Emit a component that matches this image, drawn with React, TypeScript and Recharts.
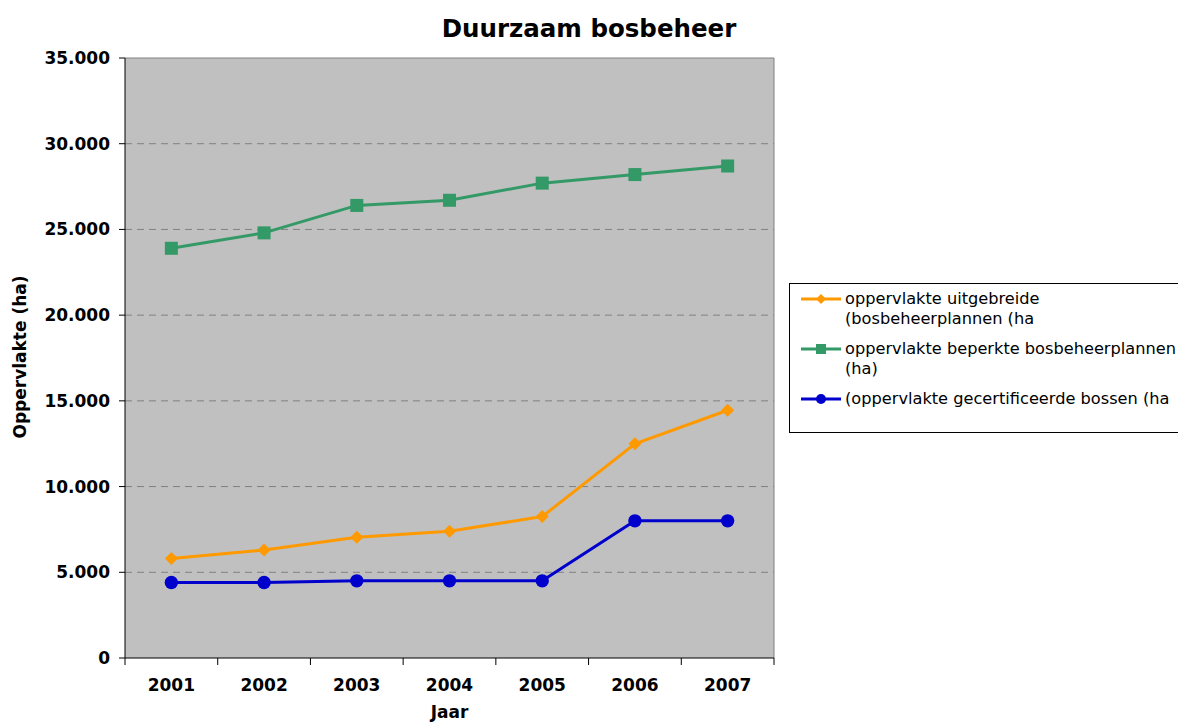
import { CartesianGrid, Line, LineChart, ReferenceLine, XAxis, YAxis } from "recharts";

const years = ["2001", "2002", "2003", "2004", "2005", "2006", "2007"];
const uitgebreid = [5800, 6300, 7050, 7400, 8250, 12500, 14450];
const beperkt = [23900, 24800, 26400, 26700, 27700, 28200, 28700];
const gecertificeerd = [4400, 4400, 4500, 4500, 4500, 8000, 8000];
const yTicks = [0, 5000, 10000, 15000, 20000, 25000, 30000, 35000];

const ORANGE = "#ff9900";
const GREEN = "#339966";
const BLUE = "#0000cc";
const FONT = "'DejaVu Sans', Verdana, sans-serif";

const W = 1178;
const H = 722;
const PLOT_L = 125;
const PLOT_R = 774;
const PLOT_T = 58;
const PLOT_B = 658;
const BAND = (PLOT_R - PLOT_L) / years.length;

const data = years.map((year, i) => ({
  pos: i + 0.5,
  year,
  uitgebreid: uitgebreid[i],
  beperkt: beperkt[i],
  gecertificeerd: gecertificeerd[i]
}));
const xTicks = [...years.map((_, i) => i), years.length];

const fmt = (v: number) => String(v).replace(/\B(?=(\d{3})+(?!\d))/g, ".");

function YearTick({ x, y, payload }: any) {
  const i = payload.value as number;
  return (
    <g>
      <line x1={x} x2={x} y1={y} y2={y + 7} stroke="#000" />
      {i < years.length && (
        <text x={x + BAND / 2} y={y + 33} textAnchor="middle" fontFamily={FONT} fontWeight="bold" fontSize={17} fill="#000">
          {years[i]}
        </text>
      )}
    </g>
  );
}

const Diamond = ({ cx, cy }: any) =>
  cx == null ? null : (
    <polygon points={`${cx},${cy - 6.5} ${cx + 6.5},${cy} ${cx},${cy + 6.5} ${cx - 6.5},${cy}`} fill={ORANGE} />
  );
const Square = ({ cx, cy }: any) =>
  cx == null ? null : <rect x={cx - 6.5} y={cy - 6.5} width={13} height={13} fill={GREEN} />;
const Dot = ({ cx, cy }: any) => (cx == null ? null : <circle cx={cx} cy={cy} r={6.7} fill={BLUE} />);

const legendItems = [
  { color: ORANGE, shape: "diamond", lines: ["oppervlakte uitgebreide", "(bosbeheerplannen (ha"] },
  { color: GREEN, shape: "square", lines: ["oppervlakte beperkte bosbeheerplannen", "(ha)"] },
  { color: BLUE, shape: "circle", lines: ["(oppervlakte gecertificeerde bossen (ha"] }
];

function LegendIcon({ color, shape }: { color: string; shape: string }) {
  return (
    <svg width={42} height={12} style={{ display: "block" }}>
      <line x1={1} x2={41} y1={6} y2={6} stroke={color} strokeWidth={3} />
      {shape === "diamond" && <polygon points="21,1 26,6 21,11 16,6" fill={color} />}
      {shape === "square" && <rect x={16} y={1} width={10} height={10} fill={color} />}
      {shape === "circle" && <circle cx={21} cy={6} r={5} fill={color} />}
    </svg>
  );
}

export default function App() {
  return (
    <div style={{ position: "absolute", left: 0, top: 0, width: W, height: H, background: "#fff", fontFamily: FONT }}>
      <div style={{ position: "absolute", left: 0, width: W, top: 14, textAlign: "center", fontWeight: "bold", fontSize: 24.5 }}>
        Duurzaam bosbeheer
      </div>

      <LineChart width={W} height={H} data={data} margin={{ top: PLOT_T, right: W - PLOT_R, bottom: 0, left: 0 }}>
        <CartesianGrid
          horizontal
          vertical={false}
          fill="#c0c0c0"
          stroke="#808080"
          strokeDasharray="7 5"
          horizontalValues={yTicks.slice(1, -1)}
        />
        <ReferenceLine y={35000} stroke="#808080" />
        <ReferenceLine x={years.length} stroke="#808080" />
        <XAxis
          dataKey="pos"
          type="number"
          domain={[0, years.length]}
          ticks={xTicks}
          height={H - PLOT_B}
          tickLine={false}
          tickSize={0}
          tickMargin={0}
          tick={<YearTick />}
          axisLine={{ stroke: "#000" }}
          interval={0}
        />
        <YAxis
          type="number"
          domain={[0, 35000]}
          ticks={yTicks}
          width={PLOT_L}
          tickFormatter={fmt}
          tickSize={6}
          tickMargin={9}
          tickLine={{ stroke: "#000" }}
          axisLine={{ stroke: "#000" }}
          tick={{ fill: "#000", fontSize: 17, fontWeight: "bold", fontFamily: FONT }}
          interval={0}
        />
        <Line dataKey="uitgebreid" stroke={ORANGE} strokeWidth={3} dot={<Diamond />} isAnimationActive={false} />
        <Line dataKey="beperkt" stroke={GREEN} strokeWidth={3} dot={<Square />} isAnimationActive={false} />
        <Line dataKey="gecertificeerd" stroke={BLUE} strokeWidth={3} dot={<Dot />} isAnimationActive={false} />
      </LineChart>

      <div
        style={{
          position: "absolute",
          left: (PLOT_L + PLOT_R) / 2 - 100,
          width: 200,
          top: 702,
          textAlign: "center",
          fontWeight: "bold",
          fontSize: 17
        }}
      >
        Jaar
      </div>
      <div
        style={{
          position: "absolute",
          left: 20 - 150,
          top: (PLOT_T + PLOT_B) / 2 - 11,
          width: 300,
          textAlign: "center",
          fontWeight: "bold",
          fontSize: 17,
          transform: "rotate(-90deg)"
        }}
      >
        Oppervlakte (ha)
      </div>

      <div
        style={{
          position: "absolute",
          left: 789,
          top: 283,
          width: 420,
          height: 150,
          border: "1px solid #000",
          background: "#fff",
          boxSizing: "border-box",
          paddingTop: 5,
          fontSize: 16.2,
          lineHeight: "19.5px",
          whiteSpace: "nowrap"
        }}
      >
        {legendItems.map((item) => (
          <div key={item.lines[0]} style={{ display: "flex", alignItems: "flex-start", marginBottom: 11 }}>
            <div style={{ marginLeft: 10, marginTop: 4, marginRight: 3 }}>
              <LegendIcon color={item.color} shape={item.shape} />
            </div>
            <div>
              {item.lines.map((l) => (
                <div key={l}>{l}</div>
              ))}
            </div>
          </div>
        ))}
      </div>
    </div>
  );
}
